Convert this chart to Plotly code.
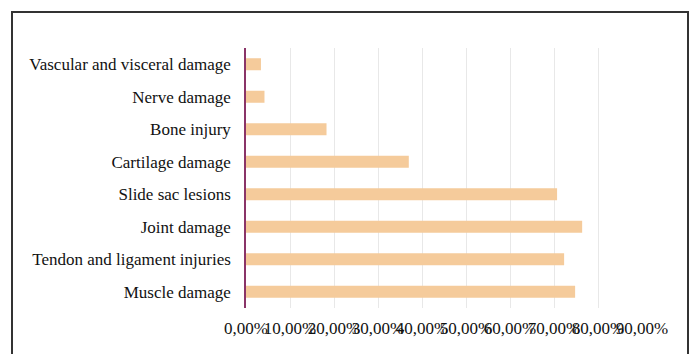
import plotly.graph_objects as go

categories = ["Muscle damage", "Tendon and ligament injuries", "Joint damage",
              "Slide sac lesions", "Cartilage damage", "Bone injury",
              "Nerve damage", "Vascular and visceral damage"]
values = [0.748, 0.723, 0.764, 0.707, 0.370, 0.183, 0.042, 0.034]
tick_vals = [0, 0.1, 0.2, 0.3, 0.4, 0.5, 0.6, 0.7, 0.8, 0.9]

fig = go.Figure(go.Bar(
    x=values, y=categories, orientation="h",
    marker=dict(color="#F5CB9B", line=dict(width=0)),
))

L, R, T, B = 246, 52, 48, 46
W, H = 694, 354
pw, ph = W - L - R, H - T - B

fig.update_layout(
    width=W, height=H,
    margin=dict(l=L, r=R, t=T, b=B, pad=0),
    paper_bgcolor="white", plot_bgcolor="white",
    separators=", ",
    bargap=0.63,
    showlegend=False,
    font=dict(family="Liberation Serif", size=17, color="#111111"),
    xaxis=dict(range=[0, 0.9], tickvals=tick_vals, tickformat=".2%",
               tickangle=0, showgrid=True, gridcolor="#E8E8E8", gridwidth=1,
               zeroline=False, showline=False, ticks="outside", ticklen=5,
               tickcolor="rgba(0,0,0,0)", tickfont=dict(size=17)),
    yaxis=dict(categoryorder="array", categoryarray=categories,
               showline=True, linecolor="#8A3468", linewidth=1.5,
               showgrid=False, zeroline=False, ticks="outside", ticklen=10,
               tickcolor="rgba(0,0,0,0)", tickfont=dict(size=17)),
    shapes=[dict(type="rect", xref="paper", yref="paper",
                 x0=(12 - L) / pw, x1=(688 - L) / pw,
                 y0=(H - B - 370) / ph, y1=(H - B - 12) / ph,
                 line=dict(color="#333333", width=2), fillcolor="rgba(0,0,0,0)",
                 layer="below")],
)

fig.write_html("out.html")
